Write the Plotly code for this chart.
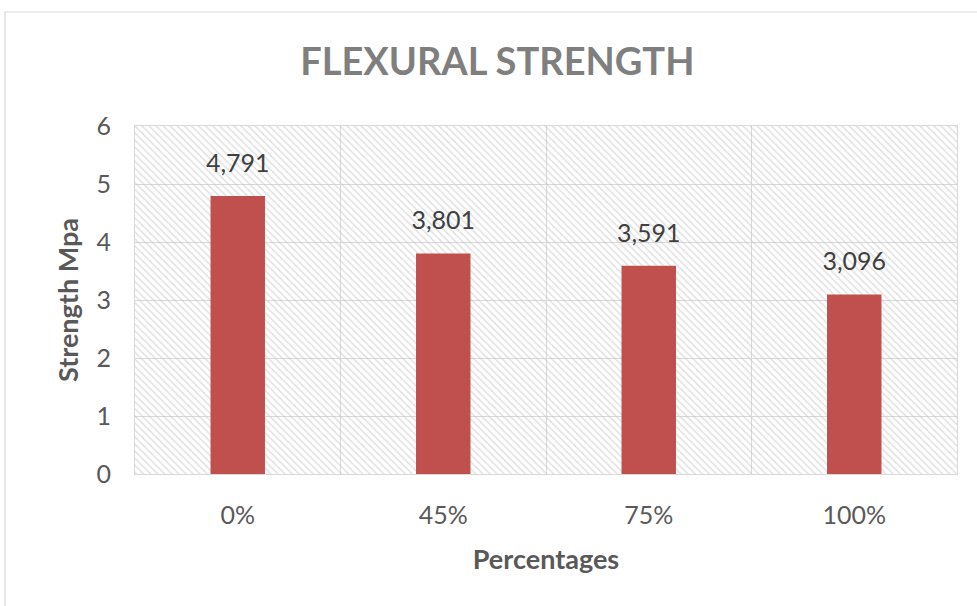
import plotly.graph_objects as go

# Flexural strength by replacement percentage
categories = ["0%", "45%", "75%", "100%"]
strength = [4.791, 3.801, 3.591, 3.096]
y_ticks = [0, 1, 2, 3, 4, 5, 6]
y_max = 6

W, H = 977, 606
ML, MR, MT, MB = 135, 20, 126, 132
plot_w = W - ML - MR
plot_h = H - MT - MB

FONT = "Lato"
GRID = "#d9d9d9"
TEXT = "#595959"


def px_x(px):
    return (px - ML) / plot_w


def px_y(py):
    return (H - MB - py) / plot_h


fig = go.Figure()

# hatched plot-area fill: one patterned block per category slot
fig.add_trace(go.Bar(
    x=categories, y=[y_max] * len(categories), width=1,
    marker=dict(color="rgba(0,0,0,0)", line=dict(width=0),
                pattern=dict(shape="\\", fgcolor="#c4c4c4", bgcolor="rgba(0,0,0,0)",
                             size=5, solidity=0.3)),
    hoverinfo="skip", showlegend=False,
))

# strength bars
fig.add_trace(go.Bar(
    x=categories, y=strength, width=0.265,
    marker=dict(color="#C0504D", line=dict(width=0)),
    showlegend=False,
))

# value labels above the bars
fig.add_trace(go.Scatter(
    x=categories, y=strength, mode="markers+text",
    marker=dict(size=27, opacity=0),
    text=[f"{v:.3f}".replace(".", ",") for v in strength],
    textposition="top center",
    textfont=dict(family=FONT, size=25, color="#404040"),
    hoverinfo="skip", showlegend=False,
))

# outer chart frame
fig.add_shape(type="rect", xref="paper", yref="paper",
              x0=px_x(5), x1=px_x(W + 5), y0=px_y(H + 5), y1=px_y(12),
              line=dict(color="#d9d9d9", width=1.2), layer="below")

fig.update_layout(
    width=W, height=H,
    margin=dict(l=ML, r=MR, t=MT, b=MB),
    paper_bgcolor="white", plot_bgcolor="white",
    barmode="overlay",
    separators=",.",
    title=dict(text="<b>FLEXURAL STRENGTH</b>", x=0.509, xanchor="center",
               y=1 - 62 / H, yanchor="middle",
               font=dict(family=FONT, size=38, color="#7f7f7f")),
    xaxis=dict(
        type="category", categoryorder="array", categoryarray=categories,
        tickson="boundaries", showgrid=True, gridcolor=GRID, gridwidth=1,
        showline=True, linecolor=GRID, linewidth=1, mirror=True,
        ticks="", ticklabelstandoff=19,
        tickfont=dict(family=FONT, size=25, color=TEXT),
        title=dict(text="<b>Percentages</b>", standoff=22,
                   font=dict(family=FONT, size=27, color=TEXT)),
        range=[-0.5, len(categories) - 0.5],
        fixedrange=True,
    ),
    yaxis=dict(
        range=[0, y_max], tickvals=y_ticks,
        showgrid=True, gridcolor=GRID, gridwidth=1,
        showline=True, linecolor=GRID, linewidth=1, mirror=True,
        zeroline=False, ticks="", ticklabelstandoff=18,
        tickfont=dict(family=FONT, size=25, color=TEXT),
        title=dict(text="<b>Strength Mpa</b>", standoff=10,
                   font=dict(family=FONT, size=27, color=TEXT)),
        fixedrange=True,
    ),
)

fig.write_html("out.html")
